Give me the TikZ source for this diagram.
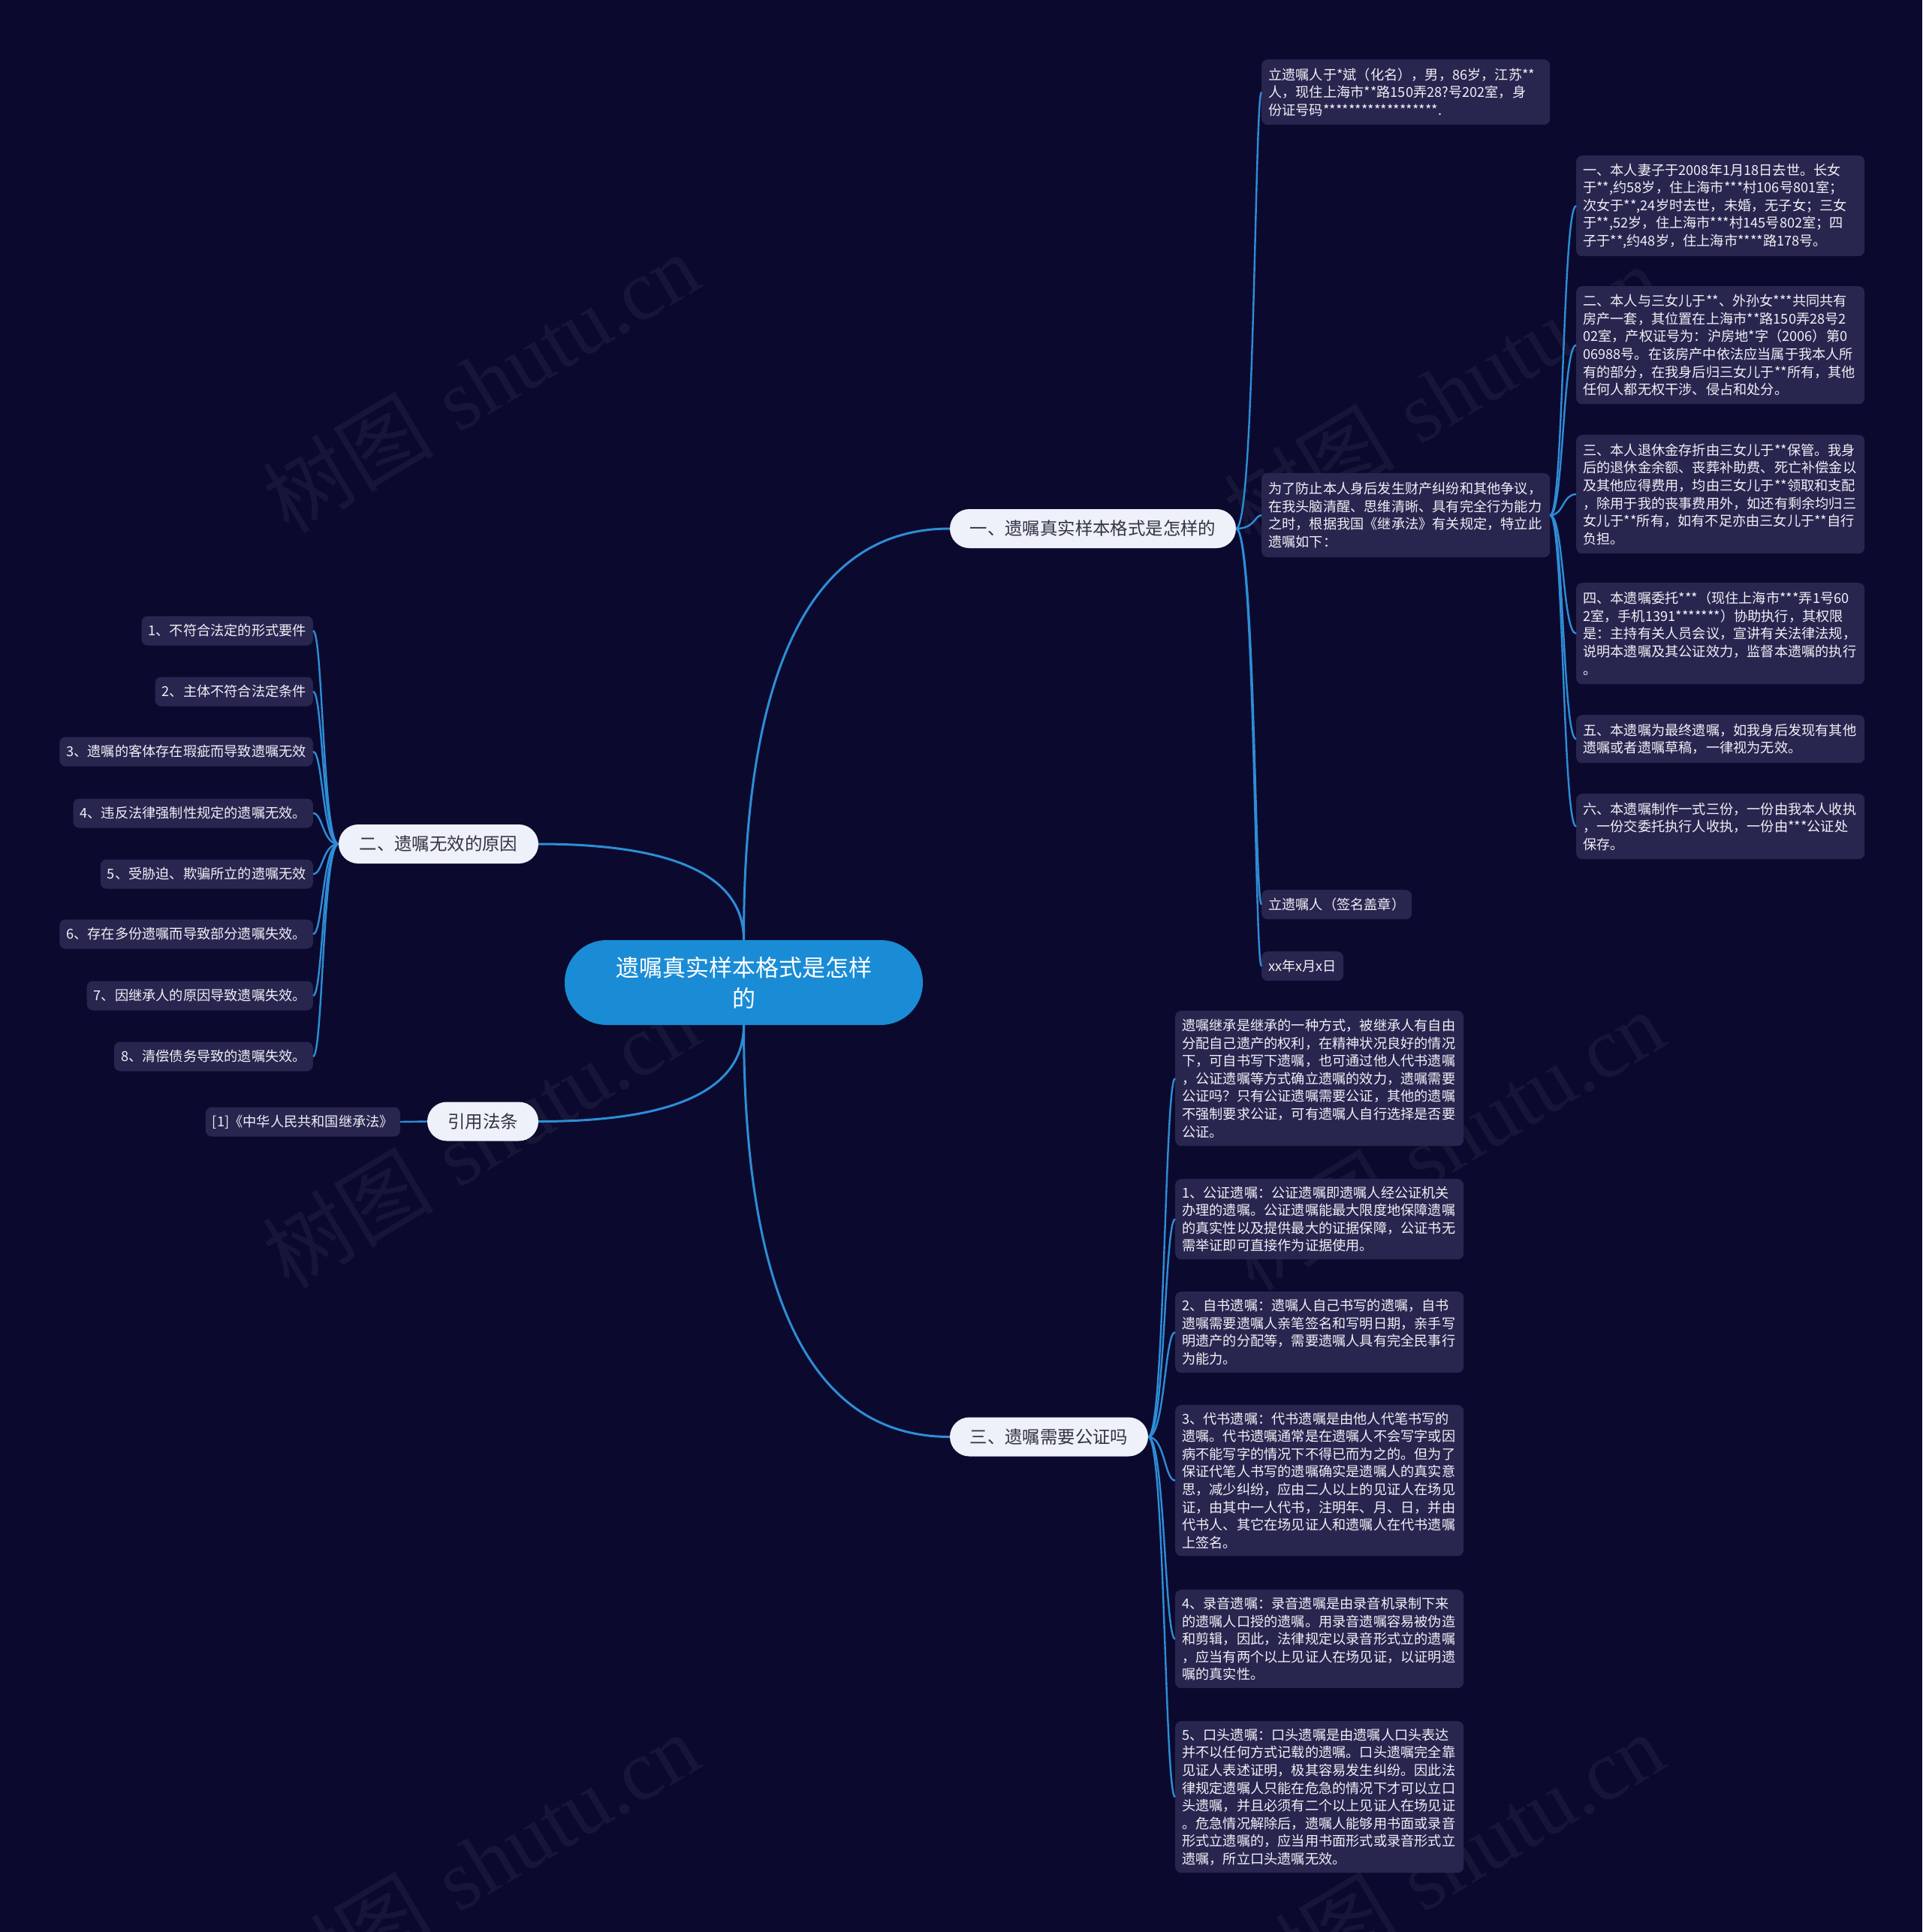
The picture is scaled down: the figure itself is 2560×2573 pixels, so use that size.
\documentclass[tikz,border=0pt]{standalone}
\usepackage{fontspec}
\newfontfamily\cjk{Noto Sans CJK SC}
\newfontfamily\wmserif{Liberation Serif}
\definecolor{bgc}{HTML}{0B0A2E}
\definecolor{boxc}{HTML}{28264F}
\definecolor{linec}{HTML}{2E8DD6}
\definecolor{rootc}{HTML}{1A8CD5}
\definecolor{brc}{HTML}{EEF0FA}
\definecolor{brtext}{HTML}{333344}
\definecolor{leaftext}{HTML}{F0F0F6}
\newcommand\leaffont{\cjk\fontsize{18.2}{23.6}\selectfont}
\newcommand\brfont{\cjk\fontsize{23.4}{28}\selectfont}
\newcommand\rootfont{\cjk\fontsize{31}{41}\selectfont}
\newcommand\wmfont{\fontsize{114}{114}\selectfont}
\begin{document}
\begin{tikzpicture}[x=1pt,y=-1pt,
  leafbase/.style={fill=boxc, rounded corners=8, text=leaftext, font=\leaffont, inner xsep=9, inner ysep=0, minimum height=39},
  leafR/.style={leafbase, anchor=north west, align=left, text width=366},
  leafS/.style={leafbase, anchor=north west},
  leafL/.style={leafbase, anchor=east},
  branch/.style={fill=brc, text=brtext, font=\brfont, rounded corners=26, minimum height=52, inner sep=0},
  rootnode/.style={fill=rootc, text=white, font=\rootfont, rounded corners=56, minimum width=477, minimum height=113, align=center, inner sep=0},
  mainline/.style={draw=linec, line width=3},
  subline/.style={draw=linec, line width=2.4},
  wm/.style={text=white, opacity=0.05, rotate=31, font=\wmfont}
]
\useasboundingbox (0,0) rectangle (2560,2573);
\fill[bgc] (0,0) rectangle (2560,2573);

% watermarks
\node[wm] (wm1) at (640,509) {{\cjk 树图} {\wmserif shutu.cn}};
\node[wm] (wm2) at (1920,525) {{\cjk 树图} {\wmserif shutu.cn}};
\node[wm] (wm3) at (640,1515) {{\cjk 树图} {\wmserif shutu.cn}};
\node[wm] (wm4) at (1925,1518) {{\cjk 树图} {\wmserif shutu.cn}};
\node[wm] (wm5) at (640,2480) {{\cjk 树图} {\wmserif shutu.cn}};
\node[wm] (wm6) at (1925,2480) {{\cjk 树图} {\wmserif shutu.cn}};

% root and branches
\node[rootnode] (root) at (990.5,1308.5) {遗嘱真实样本格式是怎样\\的};
\node[branch, minimum width=381] (b1) at (1455.5,704) {一、遗嘱真实样本格式是怎样的};
\node[branch, minimum width=266] (b2) at (584,1124) {二、遗嘱无效的原因};
\node[branch, minimum width=148] (b3) at (643,1493.5) {引用法条};
\node[branch, minimum width=264] (b4) at (1397,1913.5) {三、遗嘱需要公证吗};

% branch 1 children
\node[leafR, minimum height=87] (c11) at (1680,79) {立遗嘱人于*斌（化名），男，86岁，江苏**\\人，现住上海市**路150弄28?号202室，身\\份证号码******************.};
\node[leafR, minimum height=112] (c12) at (1680,630) {为了防止本人身后发生财产纠纷和其他争议，\\在我头脑清醒、思维清晰、具有完全行为能力\\之时，根据我国《继承法》有关规定，特立此\\遗嘱如下：};
\node[leafS] (c13) at (1680,1185) {立遗嘱人（签名盖章）};
\node[leafS] (c14) at (1680,1267) {xx年x月x日};

% c12 children
\node[leafR, minimum height=134] (d1) at (2099,207) {一、本人妻子于2008年1月18日去世。长女\\于**,约58岁，住上海市***村106号801室；\\次女于**,24岁时去世，未婚，无子女；三女\\于**,52岁，住上海市***村145号802室；四\\子于**,约48岁，住上海市****路178号。};
\node[leafR, minimum height=157] (d2) at (2099,381) {二、本人与三女儿于**、外孙女***共同共有\\房产一套，其位置在上海市**路150弄28号2\\02室，产权证号为：沪房地*字（2006）第0\\06988号。在该房产中依法应当属于我本人所\\有的部分，在我身后归三女儿于**所有，其他\\任何人都无权干涉、侵占和处分。};
\node[leafR, minimum height=158] (d3) at (2099,579) {三、本人退休金存折由三女儿于**保管。我身\\后的退休金余额、丧葬补助费、死亡补偿金以\\及其他应得费用，均由三女儿于**领取和支配\\，除用于我的丧事费用外，如还有剩余均归三\\女儿于**所有，如有不足亦由三女儿于**自行\\负担。};
\node[leafR, minimum height=135] (d4) at (2099,776) {四、本遗嘱委托***（现住上海市***弄1号60\\2室，手机1391*******）协助执行，其权限\\是：主持有关人员会议，宣讲有关法律法规，\\说明本遗嘱及其公证效力，监督本遗嘱的执行\\。};
\node[leafR, minimum height=64] (d5) at (2099,952) {五、本遗嘱为最终遗嘱，如我身后发现有其他\\遗嘱或者遗嘱草稿，一律视为无效。};
\node[leafR, minimum height=87] (d6) at (2099,1057) {六、本遗嘱制作一式三份，一份由我本人收执\\，一份交委托执行人收执，一份由***公证处\\保存。};

% branch 2 children
\node[leafL] (e1) at (417,840) {1、不符合法定的形式要件};
\node[leafL] (e2) at (417,921) {2、主体不符合法定条件};
\node[leafL] (e3) at (417,1001) {3、遗嘱的客体存在瑕疵而导致遗嘱无效};
\node[leafL] (e4) at (417,1083) {4、违反法律强制性规定的遗嘱无效。};
\node[leafL] (e5) at (417,1164) {5、受胁迫、欺骗所立的遗嘱无效};
\node[leafL] (e6) at (417,1244) {6、存在多份遗嘱而导致部分遗嘱失效。};
\node[leafL] (e7) at (417,1326) {7、因继承人的原因导致遗嘱失效。};
\node[leafL] (e8) at (417,1407) {8、清偿债务导致的遗嘱失效。};

% law reference
\node[leafL] (g1) at (533,1494) {[1]《中华人民共和国继承法》};

% branch 4 children
\node[leafR, minimum height=180] (f0) at (1565,1346) {遗嘱继承是继承的一种方式，被继承人有自由\\分配自己遗产的权利，在精神状况良好的情况\\下，可自书写下遗嘱，也可通过他人代书遗嘱\\，公证遗嘱等方式确立遗嘱的效力，遗嘱需要\\公证吗？只有公证遗嘱需要公证，其他的遗嘱\\不强制要求公证，可有遗嘱人自行选择是否要\\公证。};
\node[leafR, minimum height=107] (f1) at (1565,1570) {1、公证遗嘱：公证遗嘱即遗嘱人经公证机关\\办理的遗嘱。公证遗嘱能最大限度地保障遗嘱\\的真实性以及提供最大的证据保障，公证书无\\需举证即可直接作为证据使用。};
\node[leafR, minimum height=108] (f2) at (1565,1720) {2、自书遗嘱：遗嘱人自己书写的遗嘱，自书\\遗嘱需要遗嘱人亲笔签名和写明日期，亲手写\\明遗产的分配等，需要遗嘱人具有完全民事行\\为能力。};
\node[leafR, minimum height=201] (f3) at (1565,1871) {3、代书遗嘱：代书遗嘱是由他人代笔书写的\\遗嘱。代书遗嘱通常是在遗嘱人不会写字或因\\病不能写字的情况下不得已而为之的。但为了\\保证代笔人书写的遗嘱确实是遗嘱人的真实意\\思，减少纠纷，应由二人以上的见证人在场见\\证，由其中一人代书，注明年、月、日，并由\\代书人、其它在场见证人和遗嘱人在代书遗嘱\\上签名。};
\node[leafR, minimum height=131] (f4) at (1565,2117) {4、录音遗嘱：录音遗嘱是由录音机录制下来\\的遗嘱人口授的遗嘱。用录音遗嘱容易被伪造\\和剪辑，因此，法律规定以录音形式立的遗嘱\\，应当有两个以上见证人在场见证，以证明遗\\嘱的真实性。};
\node[leafR, minimum height=202] (f5) at (1565,2292) {5、口头遗嘱：口头遗嘱是由遗嘱人口头表达\\并不以任何方式记载的遗嘱。口头遗嘱完全靠\\见证人表述证明，极其容易发生纠纷。因此法\\律规定遗嘱人只能在危急的情况下才可以立口\\头遗嘱，并且必须有二个以上见证人在场见证\\。危急情况解除后，遗嘱人能够用书面或录音\\形式立遗嘱的，应当用书面形式或录音形式立\\遗嘱，所立口头遗嘱无效。};

% main connectors
\draw[mainline] (root.north) .. controls +(0,-365) and +(-183,0) .. (b1.west);
\draw[mainline] (root.north) .. controls +(0,-85) and +(182,0) .. (b2.east);
\draw[mainline] (root.south) .. controls +(0,86) and +(182,0) .. (b3.east);
\draw[mainline] (root.south) .. controls +(0,365) and +(-183,0) .. (b4.west);

% sub connectors
\foreach \c in {c11,c12,c13,c14}
  \draw[subline] (b1.east) .. controls +(25,0) and +(-9,0) .. (\c.west);
\foreach \c in {d1,d2,d3,d4,d5,d6}
  \draw[subline] (c12.east) .. controls +(18,0) and +(-18,0) .. (\c.west);
\foreach \c in {e1,e2,e3,e4,e5,e6,e7,e8}
  \draw[subline] (b2.west) .. controls +(-21,0) and +(13,0) .. (\c.east);
\draw[subline] (b3.west) -- (g1.east);
\foreach \c in {f0,f1,f2,f3,f4,f5}
  \draw[subline] (b4.east) .. controls +(22,0) and +(-14,0) .. (\c.west);
\end{tikzpicture}
\end{document}
